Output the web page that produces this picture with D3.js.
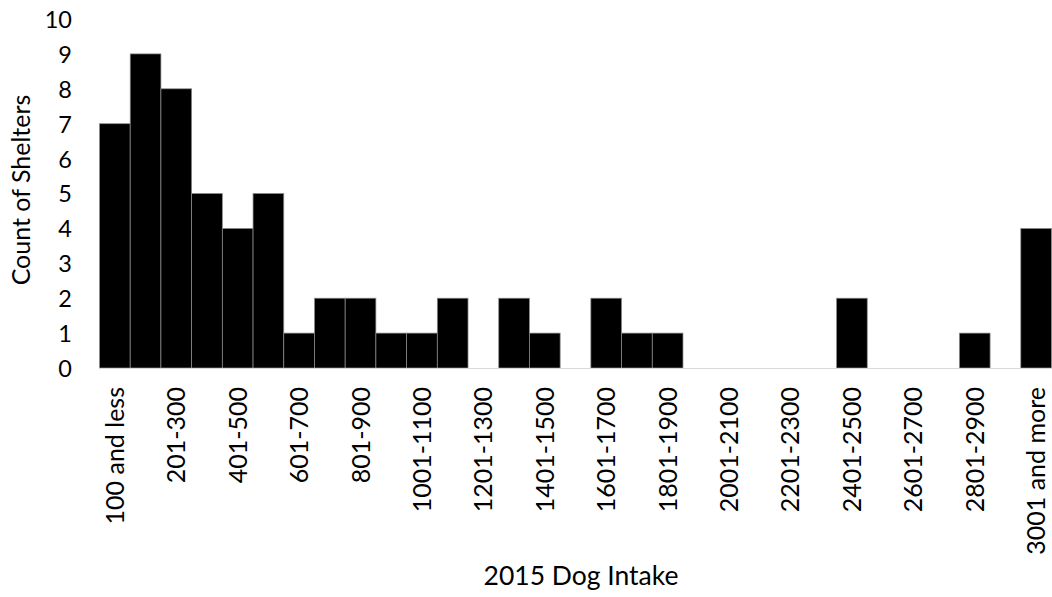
<!DOCTYPE html>
<html>
<head>
<meta charset="utf-8">
<script src="https://cdn.jsdelivr.net/npm/d3@7"></script>
<style>
  html, body { margin: 0; padding: 0; background: #fff; }
  svg { display: block; }
  text { font-family: Lato, "Open Sans", sans-serif; fill: #000; }
</style>
</head>
<body>
<svg id="chart" width="1052" height="597"></svg>
<script>
const categories = [
  "100 and less", "101-200", "201-300", "301-400", "401-500", "501-600",
  "601-700", "701-800", "801-900", "901-1000", "1001-1100", "1101-1200",
  "1201-1300", "1301-1400", "1401-1500", "1501-1600", "1601-1700", "1701-1800",
  "1801-1900", "1901-2000", "2001-2100", "2101-2200", "2201-2300", "2301-2400",
  "2401-2500", "2501-2600", "2601-2700", "2701-2800", "2801-2900", "2901-3000",
  "3001 and more"
];
const counts = [7, 9, 8, 5, 4, 5, 1, 2, 2, 1, 1, 2, 0, 2, 1, 0, 2, 1, 1, 0, 0, 0, 0, 0, 2, 0, 0, 0, 1, 0, 4];
const yTicks = [0, 1, 2, 3, 4, 5, 6, 7, 8, 9, 10];
const xTitle = "2015 Dog Intake";
const yTitle = "Count of Shelters";

(function () {
const svg = d3.select("#chart");
const pLeft = 99.5, pRight = 1051.5, pTop = 19, pBottom = 368;

const x = d3.scaleBand().domain(categories).range([pLeft, pRight]).padding(0);
const y = d3.scaleLinear().domain([0, 10]).range([pBottom, pTop]);

// bars
svg.append("g").selectAll("rect")
  .data(categories.map((c, i) => ({ c, v: counts[i] })).filter(d => d.v > 0))
  .join("rect")
  .attr("x", d => x(d.c))
  .attr("y", d => y(d.v))
  .attr("width", x.bandwidth())
  .attr("height", d => y(0) - y(d.v))
  .attr("fill", "#000")
  .attr("stroke", "#8c8c8c")
  .attr("stroke-width", 0.75);

// x axis baseline
svg.append("line")
  .attr("x1", pLeft).attr("x2", pRight)
  .attr("y1", y(0) + 0.5).attr("y2", y(0) + 0.5)
  .attr("stroke", "#d9d9d9").attr("stroke-width", 1);

// y axis (labels only)
const yAxis = d3.axisLeft(y).tickValues(yTicks).tickSize(0).tickPadding(0);
const gy = svg.append("g").attr("transform", "translate(72,0)").call(yAxis);
gy.select(".domain").remove();
gy.selectAll("text").style("font-size", "23.5px").style("font-family", "Lato, sans-serif").attr("dy", "0.36em");

// x axis labels (every other category)
const xAxis = d3.axisBottom(x)
  .tickValues(categories.filter((c, i) => i % 2 === 0))
  .tickSize(0).tickPadding(0);
const gx = svg.append("g").attr("transform", `translate(0,${pBottom})`).call(xAxis);
gx.select(".domain").remove();
gx.selectAll("text")
  .style("font-size", "25px").style("font-family", "Lato, sans-serif")
  .attr("transform", "rotate(-90)")
  .attr("text-anchor", "end")
  .attr("x", -19)
  .attr("y", 0)
  .attr("dy", "0.36em");

// axis titles
svg.append("text")
  .attr("x", 581).attr("y", 585)
  .attr("text-anchor", "middle")
  .style("font-size", "26.5px")
  .text(xTitle);

svg.append("text")
  .attr("transform", "translate(30,190) rotate(-90)")
  .attr("text-anchor", "middle")
  .style("font-size", "25px")
  .text(yTitle);
})();
</script>
</body>
</html>
